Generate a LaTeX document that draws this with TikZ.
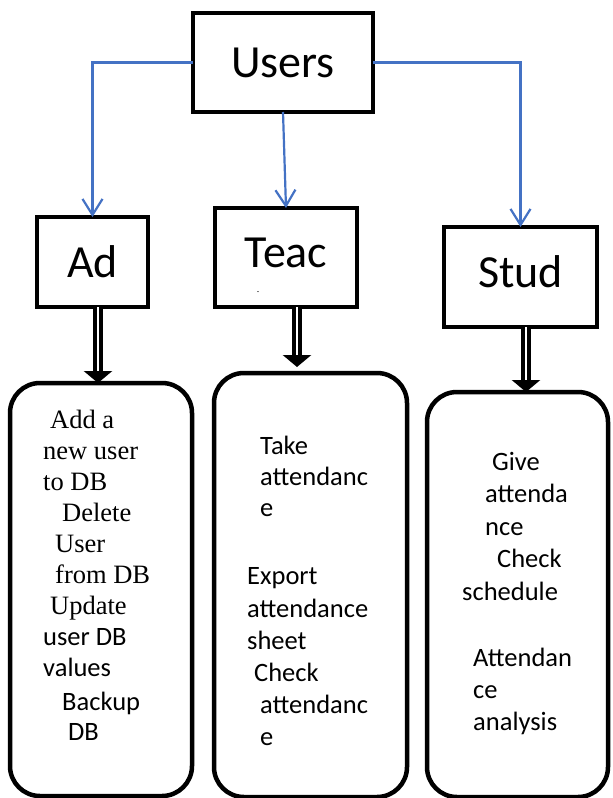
\documentclass[tikz,border=0pt]{standalone}
\usepackage{fontspec}
\setmainfont{Carlito}
\newfontfamily\tmsr{Liberation Serif}
\usetikzlibrary{arrows.meta}
\definecolor{wordblue}{RGB}{68,114,196}
\begin{document}
\begin{tikzpicture}[x=1pt,y=-1pt,
  box/.style={draw,line width=4.5pt,inner sep=0pt,outer sep=0pt,font=\fontsize{46}{50}\selectfont},
  listbox/.style={draw,line width=4.5pt,inner sep=0pt,outer sep=0pt,rounded corners=30pt},
  bluearrow/.style={draw=wordblue,line width=2.2pt,-{Straight Barb[width=20pt,length=16pt]}},
  dblarrow/.style={double,line width=3.5pt,double distance=2.5pt,-{Triangle[width=28pt,length=12pt]}},
  item/.style={anchor=base west,inner sep=0pt,font=\fontsize{26.5}{31}\selectfont},
  sitem/.style={item,font=\fontsize{26.5}{31}\tmsr},
]
\useasboundingbox (0,0) rectangle (613,798);
% top boxes
\node[box,minimum width=180pt,minimum height=99pt] (users) at (283,62.5) {Users};
\node[box,minimum width=111pt,minimum height=90pt] (ad) at (92.5,262) {Ad};
\node[box,minimum width=142pt,minimum height=99pt,text depth=9pt] (teac) at (286,257.5) {Teac};
\node[box,minimum width=153pt,minimum height=100pt,text depth=10pt] (stud) at (520.5,277) {Stud};
\node[inner sep=0pt,font=\fontsize{8}{8}\selectfont] (tdash) at (258,293) {-};
% list boxes
\node[listbox,minimum width=182pt,minimum height=413pt] (adl) at (101,589.5) {};
\node[listbox,minimum width=193pt,minimum height=424pt] (tl) at (310.5,585) {};
\node[listbox,minimum width=181pt,minimum height=405pt] (sl) at (517.5,594.5) {};
% blue connectors
\draw[bluearrow] (users.west) -| (ad.north);
\draw[bluearrow] (users.south) -- (teac.north);
\draw[bluearrow] (users.east) -| (stud.north);
% double arrows
\coordinate (a1) at ([xshift=5.5pt]ad.south);
\coordinate (t1) at ([xshift=11pt]teac.south);
\coordinate (s1) at ([xshift=5.5pt]stud.south);
\draw[dblarrow] (a1) -- (a1 |- adl.north);
\draw[dblarrow,shorten >=6pt] (t1) -- (t1 |- tl.north);
\draw[dblarrow] (s1) -- (s1 |- sl.north);
% admin list
\node[sitem] (a01) at (50,428) {Add a};
\node[sitem] (a02) at (43,459) {new user};
\node[sitem] (a03) at (43,490) {to DB};
\node[sitem] (a04) at (62,521) {Delete};
\node[sitem] (a05) at (55,552) {User};
\node[sitem] (a06) at (55,583) {from DB};
\node[sitem] (a07) at (50,614) {Update};
\node[item] (a08) at (43,645) {user DB};
\node[item] (a09) at (43,676) {values};
\node[item] (a10) at (62,710) {Backup};
\node[item] (a11) at (68,740) {DB};
% teacher list
\node[item] (t01) at (260,454) {Take};
\node[item] (t02) at (260,485) {attendanc};
\node[item] (t03) at (260,516) {e};
\node[item] (t04) at (247,584) {Export};
\node[item] (t05) at (247,617) {attendance};
\node[item] (t06) at (247,649) {sheet};
\node[item] (t07) at (254,681) {Check};
\node[item] (t08) at (260,713) {attendanc};
\node[item] (t09) at (260,745) {e};
% student list
\node[item] (s01) at (492,470) {Give};
\node[item] (s02) at (485,502) {attenda};
\node[item] (s03) at (485,535) {nce};
\node[item] (s04) at (497,567) {Check};
\node[item] (s05) at (462,600) {schedule};
\node[item] (s06) at (473,666) {Attendan};
\node[item] (s07) at (473,698) {ce};
\node[item] (s08) at (473,730) {analysis};
\end{tikzpicture}
\end{document}
